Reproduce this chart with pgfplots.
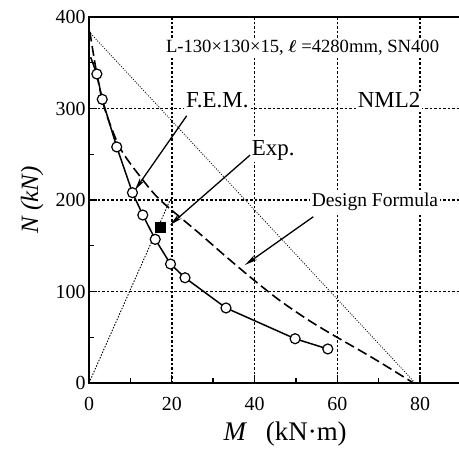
\documentclass[border=0pt]{standalone}
\usepackage{pgfplots}
\pgfplotsset{compat=1.18}
\usepackage{fontspec}
\setmainfont{Liberation Serif}
\usepackage{bm}
\usetikzlibrary{arrows.meta,calc}

\begin{document}
\begin{tikzpicture}
\begin{axis}[
 scale only axis, width=370bp, height=366bp,
 xmin=0, xmax=89.4, ymin=0, ymax=400,
 axis line style={draw=none},
 xtick pos=bottom, ytick pos=left,
 xtick={0,20,40,60,80}, ytick={0,100,200,300,400},
 major tick length=0pt,
 ticklabel style={font=\fontsize{20}{24}\selectfont},
 xticklabel style={yshift=-11bp},
 /pgf/number format/assume math mode=true,
 xlabel={\fontsize{27}{30}\selectfont\textit{M}\hspace{0.7em}(kN·m)},
 ylabel={\fontsize{25}{30}\selectfont\textit{N (kN)}},
 xlabel style={at={(axis description cs:0.53,-0.139)}, anchor=center},
 ylabel style={at={(axis description cs:-0.154,0.5)}, anchor=center},
 clip=false,
]
\coordinate (BL) at (rel axis cs:0,0);
% grid and ticks
\pgfplotsinvokeforeach{20,40,60,80}{
 \draw[black, line width=1.5pt, dash pattern=on 2.5pt off 2pt] (axis cs:#1,0) -- (axis cs:#1,400);
 \draw[black, line width=1.4pt] (axis cs:#1,0) -- ++(0,8bp);
}
\pgfplotsinvokeforeach{100,200,300}{
 \draw[black, line width=1.5pt, dash pattern=on 2.5pt off 2pt] (axis cs:0,#1) -- (axis cs:89.4,#1);
 \draw[black, line width=1.4pt] (axis cs:0,#1) -- ++(8bp,0);
}
\pgfplotsinvokeforeach{10,30,50,70}{
 \draw[black, line width=1.4pt] (axis cs:#1,0) -- ++(0,5bp);
}
\pgfplotsinvokeforeach{50,150,250,350}{
 \draw[black, line width=1.4pt] (axis cs:0,#1) -- ++(5bp,0);
}
\draw[line width=2.4pt, line cap=rect] (rel axis cs:1,1) -- (rel axis cs:0,1) -- (rel axis cs:0,0) -- (rel axis cs:1,0);

% straight dotted lines
\addplot[black, line width=0.8pt, dash pattern=on 1pt off 1.5pt] coordinates {(0,384) (78.8,0)};
\addplot[black, line width=0.9pt, dash pattern=on 1.5pt off 1.5pt] coordinates {(0,0) (19.6,200)};

% design formula
\addplot[black, line width=1.6pt, dash pattern=on 10bp off 4.5bp, smooth] coordinates {
(0.2,384) (2,335) (3.9,298) (7.5,257) (12.3,226) (17.2,200) (26.8,163) (33,138.5) (39.7,113) (46,90.5) (52.6,70) (58.2,54.5) (68.7,27) (78.4,0)};

% FEM
\addplot[black, line width=1.5pt, mark=*, mark size=5bp,
 mark options={fill=white, draw=black, line width=1.2pt, solid},
 mark indices={2,3,4,5,6,7,8,9,10,11,12}] coordinates {
(0.4,356) (1.9,337.7) (3.2,310) (6.7,258) (10.5,208) (13.0,183.6) (16.0,157) (19.7,130) (23.2,115) (33.1,82) (49.8,48.4) (57.7,37.2)};

% Exp
\addplot[only marks, black, mark=square*, mark size=5bp] coordinates {(17.2,170.8)};

\node[fill=white, inner sep=2pt, font=\fontsize{18.7}{22}\selectfont] at (axis cs:51.6,366.5) {L-130×130×15, $\bm{\ell}$ =4280mm, SN400};
\node[fill=white, inner sep=2pt, font=\fontsize{23}{26}\selectfont] at (axis cs:31,309) {F.E.M.};
\node[fill=white, inner sep=2pt, font=\fontsize{23}{26}\selectfont] at (axis cs:72.5,309) {NML2};
\node[fill=white, inner sep=2pt, font=\fontsize{23}{26}\selectfont] at (axis cs:44.5,254.6) {Exp.};
\node[fill=white, inner sep=2pt, font=\fontsize{19.6}{22}\selectfont] at (axis cs:69.1,198) {Design Formula};

\draw[line width=1.3pt, -{Stealth[length=13bp,width=5.5bp]}] (axis cs:23.6,292) -- (axis cs:11.1,210.9);
\draw[line width=1.3pt, -{Stealth[length=13bp,width=5.5bp]}] (axis cs:38.9,249) -- (axis cs:19.6,172.7);
\draw[line width=1.3pt, -{Stealth[length=13bp,width=5.5bp]}] (axis cs:54.2,181.7) -- (axis cs:37.7,129);
\end{axis}
\pgfresetboundingbox
\path[use as bounding box] ($(BL)+(-89bp,-68bp)$) rectangle ($(BL)+(370bp,383bp)$);
\end{tikzpicture}
\end{document}
